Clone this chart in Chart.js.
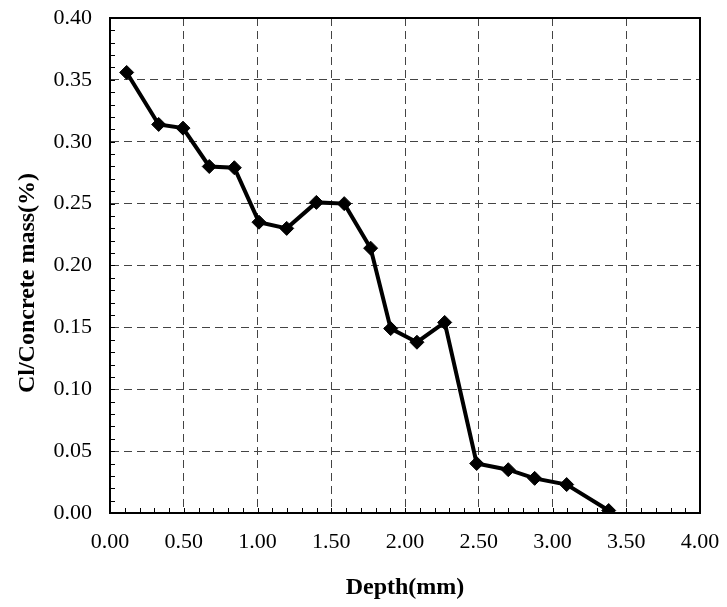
<!DOCTYPE html>
<html>
<head>
<meta charset="utf-8">
<script src="https://cdn.jsdelivr.net/npm/chart.js@4/dist/chart.umd.min.js"></script>
<style>
  html, body { margin: 0; padding: 0; background: #fff; }
  #wrap { width: 727px; height: 607px; }
</style>
</head>
<body>
<div id="wrap"><canvas id="chart" width="727" height="607"></canvas></div>
<script>
// --- Data ---
const depthMm = [0.113, 0.330, 0.495, 0.673, 0.843, 1.010, 1.198, 1.399, 1.588, 1.767,
                 1.903, 2.081, 2.269, 2.486, 2.700, 2.879, 3.096, 3.381];
const chloride = [0.356, 0.314, 0.311, 0.280, 0.279, 0.235, 0.230, 0.251, 0.250, 0.214,
                  0.149, 0.138, 0.154, 0.040, 0.035, 0.028, 0.023, 0.002];
const xTitle = 'Depth(mm)';
const yTitle = 'Cl/Concrete mass(%)';

const serif = "'Liberation Serif', 'Times New Roman', serif";

// --- Plot box, minor ticks and y title ---
const framePlugin = {
    id: 'frame',
    beforeDatasetsDraw(chart) {
        const { ctx, chartArea: a, scales: { x, y } } = chart;
        ctx.save();
        ctx.strokeStyle = '#000';
        ctx.lineWidth = 1;
        ctx.beginPath();
        for (let v = 0.01; v < 0.40; v += 0.01) {
            const py = Math.round(y.getPixelForValue(v)) + 0.5;
            ctx.moveTo(a.left, py); ctx.lineTo(a.left + 5, py);
        }
        for (let v = 0.1; v < 4.0; v += 0.1) {
            const px = Math.round(x.getPixelForValue(v)) + 0.5;
            ctx.moveTo(px, a.bottom); ctx.lineTo(px, a.bottom - 5);
        }
        ctx.stroke();
        ctx.lineWidth = 2;
        ctx.strokeRect(a.left, a.top, a.right - a.left, a.bottom - a.top);
        ctx.restore();
    },
    afterDraw(chart) {
        const { ctx } = chart;
        ctx.save();
        ctx.translate(28, 283);
        ctx.rotate(-Math.PI / 2);
        ctx.font = `bold 24px ${serif}`;
        ctx.fillStyle = '#000';
        ctx.textAlign = 'center';
        ctx.textBaseline = 'middle';
        ctx.fillText(yTitle, 0, 0);
        ctx.restore();
    }
};

new Chart(document.getElementById('chart').getContext('2d'), {
    type: 'scatter',
    data: {
        datasets: [{
            data: depthMm.map((d, i) => ({ x: d, y: chloride[i] })),
            showLine: true,
            borderColor: '#000',
            backgroundColor: '#000',
            borderWidth: 4,
            pointStyle: 'rectRot',
            pointRadius: 7,
            pointBorderWidth: 1,
            tension: 0
        }]
    },
    options: {
        responsive: false,
        animation: false,
        layout: { padding: { top: 18, right: 27, left: 0, bottom: 0 } },
        plugins: { legend: { display: false }, tooltip: { enabled: false } },
        scales: {
            x: {
                type: 'linear', min: 0, max: 4,
                afterFit: s => { s.height = 94; s.paddingLeft = 0; s.paddingRight = 0; },
                ticks: { stepSize: 0.5, padding: 16, color: '#000', font: { family: serif, size: 22 },
                         callback: v => v.toFixed(2) },
                grid: { color: '#444', lineWidth: 1, drawTicks: false },
                border: { display: true, color: '#000', width: 2, dash: [8, 5] },
                title: { display: true, text: xTitle, color: '#000', padding: { top: 0, bottom: 5 },
                         font: { family: serif, size: 24, weight: 'bold' } }
            },
            y: {
                type: 'linear', min: 0, max: 0.4,
                afterFit: s => { s.width = 110; s.paddingTop = 0; s.paddingBottom = 0; },
                ticks: { stepSize: 0.05, padding: 18, color: '#000', font: { family: serif, size: 22 },
                         callback: v => v.toFixed(2) },
                grid: { color: '#444', lineWidth: 1, drawTicks: false },
                border: { display: true, color: '#000', width: 2, dash: [8, 5] }
            }
        }
    },
    plugins: [framePlugin]
});
</script>
</body>
</html>
